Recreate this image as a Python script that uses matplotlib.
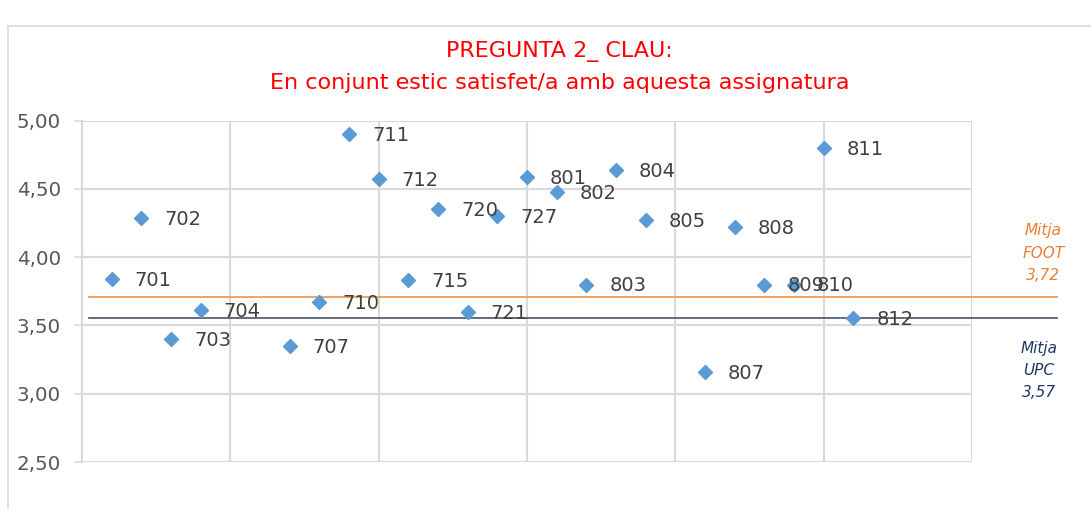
import matplotlib.pyplot as plt
from matplotlib.patches import Rectangle

# codis de grup i posició a l'eix x (hi ha posicions buides)
grups = ['701', '702', '703', '704', '707', '710', '711', '712', '715', '720',
         '721', '727', '801', '802', '803', '804', '805', '807', '808', '809',
         '810', '811', '812']
posicio = [1, 2, 3, 4, 7, 8, 9, 10, 11, 12, 13, 14, 15, 16, 17, 18, 19,
           21, 22, 23, 24, 25, 26]
valors = [3.84, 4.29, 3.40, 3.61, 3.35, 3.67, 4.90, 4.57, 3.83, 4.35, 3.60,
          4.30, 4.585, 4.475, 3.80, 4.64, 4.27, 3.16, 4.22, 3.80, 3.80, 4.80, 3.555]

mitja_foot = 3.712
mitja_upc = 3.557
text_foot = 'Mitja\nFOOT\n3,72'
text_upc = 'Mitja\nUPC\n3,57'
yticks = [2.5, 3.0, 3.5, 4.0, 4.5, 5.0]

fig = plt.figure(figsize=(10.91, 5.09), dpi=100)
ax = fig.add_axes([0.0752, 0.0923, 0.8157, 0.6706])

# marc del gràfic
fig.patches.append(Rectangle((8 / 1091, -0.1), 1.2, 1 - 26 / 509 + 0.1,
                             transform=fig.transFigure, fill=False,
                             edgecolor='#D9D9D9', linewidth=1.2))

x = [p * 0.2 for p in posicio]
ax.plot(x, valors, linestyle='none', marker='D', markersize=7.3,
        color='#5B9BD5', zorder=5)
for xi, yi, g in zip(x, valors, grups):
    ax.annotate(g, (xi, yi), xytext=(16.5, -1), textcoords='offset points',
                va='center', ha='left', fontsize=14, color='#404040', zorder=6)

# línies de mitjana (surten fora de l'àrea)
ax.plot([0.05, 6.57], [mitja_foot, mitja_foot], color='#F4A460', linewidth=1.5,
        clip_on=False, zorder=4)
ax.plot([0.05, 6.57], [mitja_upc, mitja_upc], color='#44546A', linewidth=1.2,
        clip_on=False, zorder=4)
ax.text(6.48, 4.03, text_foot, color='#ED7D31', fontsize=11, style='italic',
        ha='center', va='center', linespacing=1.6)
ax.text(6.45, 3.17, text_upc, color='#1F3864', fontsize=11, style='italic',
        ha='center', va='center', linespacing=1.6)

ax.set_xlim(0, 6)
ax.set_ylim(2.5, 5.0)
ax.set_xticks(range(0, 7))
ax.set_xticklabels([])
ax.tick_params(axis='x', length=0)
ax.set_yticks(yticks)
ax.set_yticklabels([('%.2f' % v).replace('.', ',') for v in yticks])
ax.tick_params(axis='y', length=6, width=1.2, color='#D9D9D9',
               labelsize=14.3, labelcolor='#595959', pad=9)
ax.grid(True, color='#D9D9D9', linewidth=1.5)
ax.set_axisbelow(True)
for s in ['top', 'right', 'bottom']:
    ax.spines[s].set_visible(False)
ax.spines['left'].set_color('#D9D9D9')
ax.spines['left'].set_linewidth(1.5)

fig.text(0.513, 1 - 51 / 509, 'PREGUNTA 2_ CLAU:', color='#FF0000', fontsize=16,
         ha='center', va='center')
fig.text(0.513, 1 - 83 / 509, 'En conjunt estic satisfet/a amb aquesta assignatura',
         color='#FF0000', fontsize=16, ha='center', va='center')

fig.savefig('out.png', dpi=100)
